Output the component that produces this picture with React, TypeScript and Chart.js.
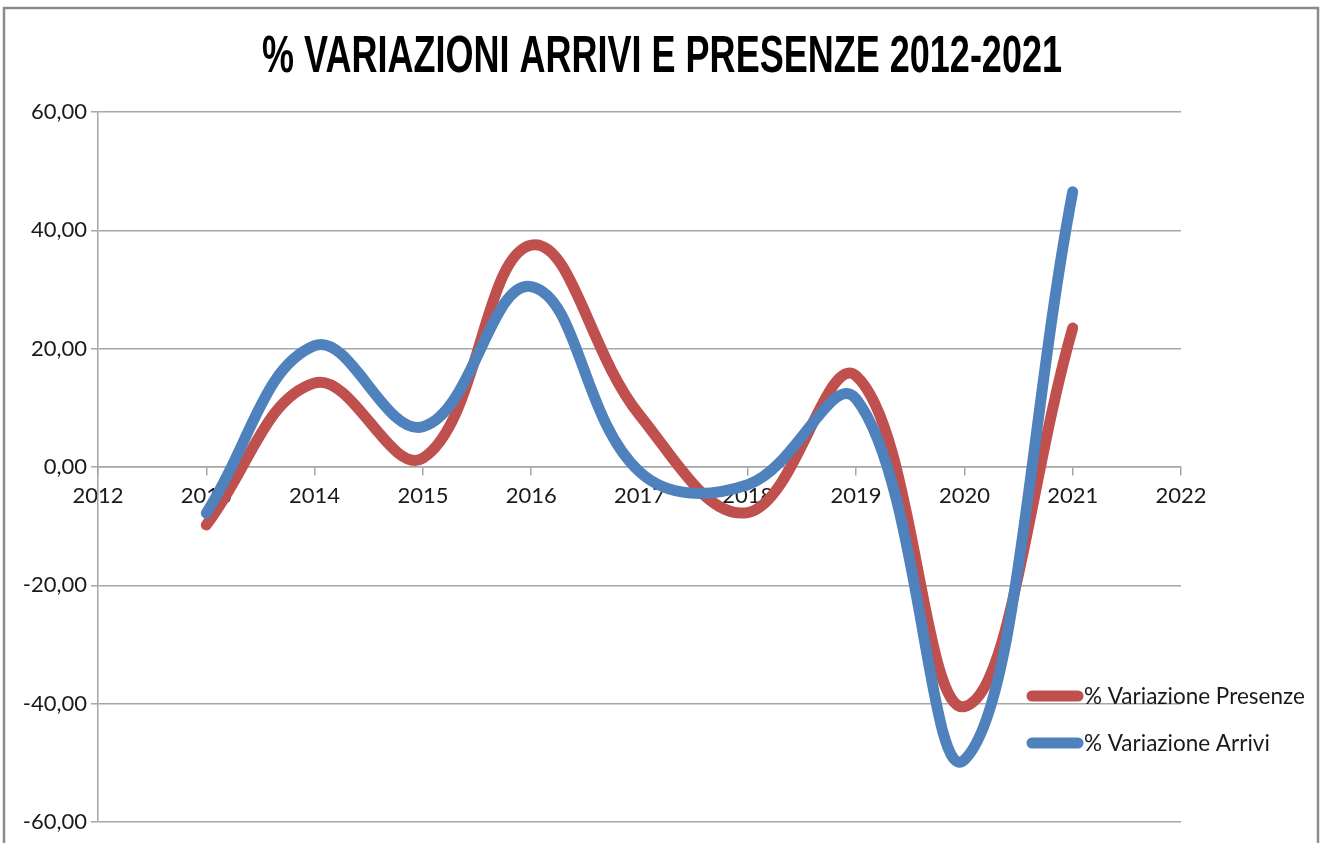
import React, { useEffect, useRef } from "react";
import { Chart, registerables } from "chart.js";

Chart.register(...registerables);

const TITLE = "% VARIAZIONI ARRIVI E PRESENZE 2012-2021";
const years = [2013, 2014, 2015, 2016, 2017, 2018, 2019, 2020, 2021];
const presenze = [-9.8, 14.2, 1.5, 37.5, 8.8, -7.7, 15.4, -40.5, 23.5];
const arrivi = [-7.8, 20.5, 6.8, 30.5, -0.8, -3.0, 11.5, -49.5, 46.5];
const seriesLabels = ["% Variazione Presenze", "% Variazione Arrivi"];
const seriesColors = ["#C0504D", "#4F81BD"];
const xMin = 2012;
const xMax = 2022;
const yMin = -60;
const yMax = 60;
const yStep = 20;

const FONT = "Lato, 'Open Sans', sans-serif";

const framePlugin = {
  id: "frameAndTitle",
  beforeDraw(chart: any) {
    const ctx = chart.ctx;
    ctx.save();
    ctx.fillStyle = "#ffffff";
    ctx.fillRect(0, 0, chart.width, chart.height);
    ctx.strokeStyle = "#8c8c8c";
    ctx.lineWidth = 2.5;
    ctx.strokeRect(4, 8, chart.width - 8, chart.height + 20);
    ctx.restore();
  },
  afterDraw(chart: any) {
    const ctx = chart.ctx;
    ctx.save();
    ctx.font = "bold 51px 'Liberation Sans', Arial, sans-serif";
    ctx.fillStyle = "#000000";
    ctx.textBaseline = "alphabetic";
    ctx.textAlign = "center";
    const w = ctx.measureText(TITLE).width;
    const sx = 800 / w;
    ctx.translate(662, 72);
    ctx.scale(sx, 1);
    ctx.fillText(TITLE, 0, 0);
    ctx.restore();

    ctx.save();
    const items = chart.data.datasets;
    const y0 = 696;
    const gap = 47;
    items.forEach((ds: any, i: number) => {
      const y = y0 + i * gap;
      ctx.strokeStyle = ds.borderColor;
      ctx.lineWidth = 11;
      ctx.lineCap = "round";
      ctx.beginPath();
      ctx.moveTo(1032, y);
      ctx.lineTo(1078, y);
      ctx.stroke();
      ctx.fillStyle = "#1a1a1a";
      ctx.font = `22.5px ${FONT}`;
      ctx.textAlign = "left";
      ctx.textBaseline = "middle";
      ctx.fillText(ds.label, 1084, y + 1);
    });
    ctx.restore();
  },
};

export default function App() {
  const ref = useRef<HTMLCanvasElement | null>(null);

  useEffect(() => {
    document.body.style.margin = "0";
    const canvas = ref.current;
    if (!canvas) return;
    const chart = new Chart(canvas, {
      type: "line",
      data: {
        datasets: [
          {
            label: seriesLabels[0],
            data: years.map((x, i) => ({ x, y: presenze[i] })),
            borderColor: seriesColors[0],
            backgroundColor: seriesColors[0],
            borderWidth: 11,
            borderCapStyle: "round",
            borderJoinStyle: "round",
            pointRadius: 0,
            tension: 0.4,
            fill: false,
            order: 1,
          },
          {
            label: seriesLabels[1],
            data: years.map((x, i) => ({ x, y: arrivi[i] })),
            borderColor: seriesColors[1],
            backgroundColor: seriesColors[1],
            borderWidth: 11,
            borderCapStyle: "round",
            borderJoinStyle: "round",
            pointRadius: 0,
            tension: 0.4,
            fill: false,
            order: 0,
          },
        ],
      },
      options: {
        animation: false,
        responsive: false,
        maintainAspectRatio: false,
        layout: { padding: { top: 112, right: 141, bottom: 21, left: 0 } },
        plugins: {
          legend: { display: false },
          tooltip: { enabled: false },
          title: { display: false },
        },
        scales: {
          x: {
            type: "linear",
            min: xMin,
            max: xMax,
            position: { y: 0 },
            grid: {
              drawOnChartArea: false,
              drawTicks: true,
              tickLength: 8,
              color: "#a6a6a6",
              lineWidth: 1.5,
            },
            border: { display: true, color: "#a6a6a6", width: 1.5 },
            ticks: {
              stepSize: 1,
              padding: 8,
              color: "#1a1a1a",
              font: { family: FONT, size: 22 },
              maxRotation: 0,
              autoSkip: false,
              callback: (v: any) => String(v),
            },
          },
          y: {
            type: "linear",
            min: yMin,
            max: yMax,
            afterFit: (s: any) => {
              s.width = 98;
            },
            grid: {
              drawTicks: true,
              tickLength: 7,
              color: "#a6a6a6",
              lineWidth: 1.5,
            },
            border: { display: true, color: "#a6a6a6", width: 1.5 },
            ticks: {
              stepSize: yStep,
              padding: 4,
              color: "#1a1a1a",
              font: { family: FONT, size: 22 },
              callback: (v: any) => Number(v).toFixed(2).replace(".", ","),
            },
          },
        },
      },
      plugins: [framePlugin],
    } as any);
    return () => chart.destroy();
  }, []);

  return (
    <div style={{ width: 1322, height: 843, overflow: "hidden" }}>
      <canvas ref={ref} width={1322} height={843} style={{ display: "block" }} />
    </div>
  );
}
